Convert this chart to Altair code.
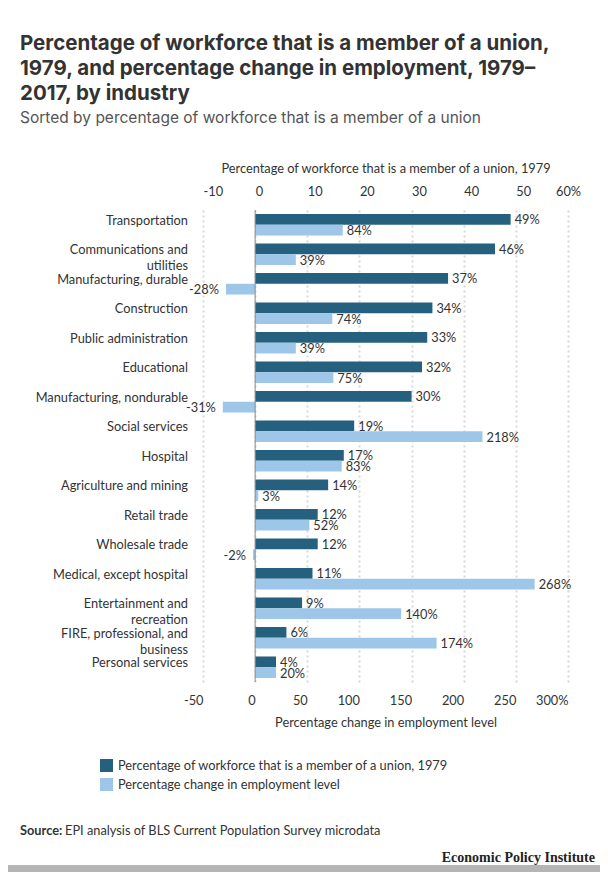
import altair as alt
import pandas as pd

industries = [
    "Transportation",
    "Communications and utilities",
    "Manufacturing, durable",
    "Construction",
    "Public administration",
    "Educational",
    "Manufacturing, nondurable",
    "Social services",
    "Hospital",
    "Agriculture and mining",
    "Retail trade",
    "Wholesale trade",
    "Medical, except hospital",
    "Entertainment and recreation",
    "FIRE, professional, and business",
    "Personal services",
]
union_share = [49, 46, 37, 34, 33, 32, 30, 19, 17, 14, 12, 12, 11, 9, 6, 4]
employment_change = [84, 39, -28, 74, 39, 75, -31, 218, 83, 3, 52, -2, 268, 140, 174, 20]

series_names = [
    "Percentage of workforce that is a member of a union, 1979",
    "Percentage change in employment level",
]
union_ticks = [-10, 0, 10, 20, 30, 40, 50, 60]
employment_ticks = [-50, 0, 50, 100, 150, 200, 250, 300]

# wrapped category labels, as in the original
wrapped = {
    "Communications and utilities": ["Communications and", "utilities"],
    "Entertainment and recreation": ["Entertainment and", "recreation"],
    "FIRE, professional, and business": ["FIRE, professional, and", "business"],
}

dark_blue = "#25607f"
light_blue = "#9dc6e9"
font = "Lato"
fs = 12.8
text_color = "#333333"

union_df = pd.DataFrame({"industry": industries, "value": union_share, "series": series_names[0]})
emp_df = pd.DataFrame({"industry": industries, "value": employment_change, "series": series_names[1]})
label_df = pd.DataFrame({"industry": industries,
                         "lines": [wrapped.get(n, [n]) for n in industries]})

y_enc = alt.Y("industry:N", sort=industries, axis=None,
              scale=alt.Scale(paddingInner=0.27, paddingOuter=0.135))
y_off = alt.YOffset("series:N", scale=alt.Scale(domain=series_names, paddingInner=0, paddingOuter=0))

color = alt.Color(
    "series:N",
    scale=alt.Scale(domain=series_names, range=[dark_blue, light_blue]),
    legend=alt.Legend(
        title=None, orient="none", legendX=-103, legendY=549, direction="vertical",
        symbolType="square", symbolSize=169, symbolStrokeWidth=0, symbolOpacity=1,
        labelFontSize=fs, labelFont=font, labelColor=text_color, rowPadding=5,
        labelOffset=5, labelLimit=400,
    ),
)

union_axis = alt.Axis(
    orient="top", values=union_ticks, grid=True, gridDash=[2, 3], gridColor="#d8d8d8",
    gridWidth=2, ticks=False, domain=False,
    labelAlign={"condition": {"test": "datum.value == 60", "value": "center"}, "value": "left"},
    labelExpr="datum.value + (datum.value == 60 ? '%' : '')",
    labelFontSize=fs, labelFont=font, labelColor=text_color, labelPadding=12,
    title=series_names[0], titleFontSize=fs, titleFont=font, titleFontWeight="normal",
    titleColor=text_color, titlePadding=10,
)
emp_axis = alt.Axis(
    orient="bottom", values=employment_ticks, grid=False, ticks=False,
    domain=False, labelAlign="right",
    labelExpr="datum.value + (datum.value == 300 ? '%' : '')",
    labelFontSize=fs, labelFont=font, labelColor=text_color, labelPadding=12,
    title=series_names[1], titleFontSize=fs, titleFont=font, titleFontWeight="normal",
    titleColor=text_color, titlePadding=10,
)

union_scale = alt.Scale(domain=[-10, 60], nice=False, zero=False)
emp_scale = alt.Scale(domain=[-50, 300], nice=False, zero=False)

union_bars = alt.Chart(union_df).mark_bar().encode(
    x=alt.X("value:Q", scale=union_scale, axis=union_axis),
    y=y_enc, yOffset=y_off, color=color,
)
emp_bars = alt.Chart(emp_df).mark_bar().encode(
    x=alt.X("value:Q", scale=emp_scale, axis=emp_axis),
    y=y_enc, yOffset=y_off, color=alt.Color("series:N", legend=None),
)
zero_rule = alt.Chart(pd.DataFrame({"value": [0]})).mark_rule(color="#8a8a8a", strokeWidth=1).encode(
    x=alt.X("value:Q", scale=union_scale, axis=None),
)
category_labels = alt.Chart(label_df).mark_text(
    align="right", baseline="alphabetic", lineHeight=16, fontSize=fs, font=font, color=text_color
).encode(x=alt.value(-15), y=y_enc, text="lines:N")

union_text = alt.Chart(union_df).transform_calculate(
    label="datum.value + '%'"
).mark_text(align="left", dx=4, dy=1, fontSize=fs, font=font, color=text_color).encode(
    x=alt.X("value:Q", scale=union_scale, axis=None),
    y=y_enc, yOffset=y_off, text="label:N",
)
emp_text_pos = alt.Chart(emp_df).transform_filter("datum.value >= 0").transform_calculate(
    label="datum.value + '%'"
).mark_text(align="left", dx=4, dy=1, fontSize=fs, font=font, color=text_color).encode(
    x=alt.X("value:Q", scale=emp_scale, axis=None),
    y=y_enc, yOffset=y_off, text="label:N",
)
emp_text_neg = alt.Chart(emp_df).transform_filter("datum.value < 0").transform_calculate(
    label="datum.value + '%'"
).mark_text(align="right", dx=-7, dy=1, fontSize=fs, font=font, color=text_color).encode(
    x=alt.X("value:Q", scale=emp_scale, axis=None),
    y=y_enc, yOffset=y_off, text="label:N",
)

# footer texts and band
source_bold = alt.Chart(pd.DataFrame({"t": ["Source:"]})).mark_text(
    align="left", baseline="middle", fontSize=fs, font=font, fontWeight="bold", color=text_color
).encode(x=alt.value(-183), y=alt.value(621), text="t:N")
source_rest = alt.Chart(pd.DataFrame({"t": ["EPI analysis of BLS Current Population Survey microdata"]})).mark_text(
    align="left", baseline="middle", fontSize=fs, font=font, color=text_color
).encode(x=alt.value(-138), y=alt.value(621), text="t:N")
epi = alt.Chart(pd.DataFrame({"t": ["Economic Policy Institute"]})).mark_text(
    align="right", baseline="middle", fontSize=14, font="Liberation Serif", fontWeight="bold", color="#222222"
).encode(x=alt.value(392), y=alt.value(648), text="t:N")
band = alt.Chart(pd.DataFrame({"t": [1]})).mark_rect(color="#b5b5b5").encode(
    x=alt.value(-195), x2=alt.value(397), y=alt.value(655), y2=alt.value(662)
)

chart = alt.layer(
    union_bars, emp_bars, zero_rule, category_labels, union_text, emp_text_pos, emp_text_neg,
    source_bold, source_rest, epi, band,
).resolve_scale(x="independent").properties(
    width=365,
    height=472,
    autosize=alt.AutoSizeParams(type="none"),
    padding={"left": 195, "top": 202, "right": 32, "bottom": 190},
    title=alt.TitleParams(
        text=["Percentage of workforce that is a member of a union,",
              "1979, and percentage change in employment, 1979–",
              "2017, by industry"],
        subtitle="Sorted by percentage of workforce that is a member of a union",
        anchor="start", frame="group", dx=-183, offset=36,
        font="Inter", fontSize=20.5, fontWeight="bold", color=text_color, lineHeight=25,
        subtitleFont="Inter", subtitleFontSize=15.5, subtitleColor="#555555", subtitlePadding=6,
    ),
).configure_view(stroke=None)

chart.save("out.html", embed_options={"renderer": "svg", "actions": False})
